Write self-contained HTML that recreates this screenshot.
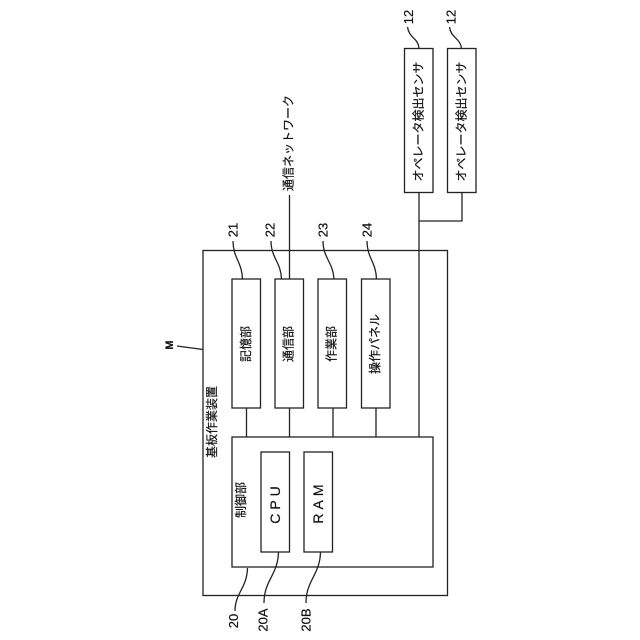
<!DOCTYPE html>
<html lang="ja">
<head>
<meta charset="utf-8">
<style>
html,body{margin:0;padding:0;background:#fff;width:640px;height:640px;overflow:hidden}
svg{display:block}
text{font-family:"Liberation Sans","Noto Sans CJK JP",sans-serif;fill:#111;stroke:#111;stroke-width:.2;text-anchor:middle;dominant-baseline:central}
.j text{font-size:12px}
.n text{font-size:13px}
</style>
</head>
<body>
<svg width="640" height="640" viewBox="0 0 640 640" xmlns="http://www.w3.org/2000/svg">
<g fill="none" stroke="#222" stroke-width="1.3">
<rect x="203" y="250.5" width="244.5" height="345"/>
<rect x="232" y="437" width="201" height="130"/>
<rect x="261" y="452" width="28.5" height="100"/>
<rect x="304" y="452" width="28.5" height="100"/>
<rect x="232" y="279" width="28.5" height="129"/>
<rect x="275" y="279" width="28.5" height="129"/>
<rect x="318" y="279" width="28.5" height="129"/>
<rect x="361.5" y="279" width="28.5" height="129"/>
<rect x="404.5" y="48.5" width="28.5" height="144"/>
<rect x="447.5" y="48.5" width="28.5" height="144"/>
<path d="M246.500 408V437M289.500 195V279M289.500 408V437M333 408V437M376 408V437M419 192.500V437M462 192.500V221H419"/>
<path d="M233 241C233 258 242 262 242.500 279"/>
<path d="M271 241C271 258 281 262 281.500 279"/>
<path d="M323 241C323 258 333 262 334 279"/>
<path d="M367 241C367 258 376 262 376.500 279"/>
<path d="M407.500 27C409 38 418 38 419 48"/>
<path d="M449.500 27C451 38 460 38 461.500 48"/>
<path d="M177 346L203 349.500"/>
<path d="M235 611C235 593 247 588 247.500 568"/>
<path d="M264 603C264 580 278 575 278.500 552"/>
<path d="M306 603C306 580 320 575 320.500 552"/>
</g>
<g class="j">
<text transform="translate(246,344) rotate(-90)">記憶部</text>
<text transform="translate(288.500,344) rotate(-90)">通信部</text>
<text transform="translate(331.500,344) rotate(-90)">作業部</text>
<text transform="translate(375,344) rotate(-90)">操作パネル</text>
<text transform="translate(212,422) rotate(-90)">基板作業装置</text>
<text transform="translate(241,500) rotate(-90)">制御部</text>
<text transform="translate(418.500,121.500) rotate(-90)">オペレータ検出センサ</text>
<text transform="translate(461.500,121.500) rotate(-90)">オペレータ検出センサ</text>
<text transform="translate(288.500,143) rotate(-90)">通信ネットワーク</text>
</g>
<text font-size="14" letter-spacing="4" transform="translate(275,503) rotate(-90)">CPU</text>
<text font-size="14" letter-spacing="4" transform="translate(318,502) rotate(-90)">RAM</text>
<g class="n">
<text transform="translate(233,230) rotate(-90)">21</text>
<text transform="translate(270,230) rotate(-90)">22</text>
<text transform="translate(323,230) rotate(-90)">23</text>
<text transform="translate(367,230) rotate(-90)">24</text>
<text transform="translate(408.500,17) rotate(-90)">12</text>
<text transform="translate(451,17) rotate(-90)">12</text>
<text transform="translate(233.500,621) rotate(-90)">20</text>
<text transform="translate(263,620) rotate(-90)">20A</text>
<text transform="translate(306,620) rotate(-90)">20B</text>
</g>
<text font-size="11" font-weight="bold" transform="translate(170,345) rotate(-90)">M</text>
</svg>
</body>
</html>
